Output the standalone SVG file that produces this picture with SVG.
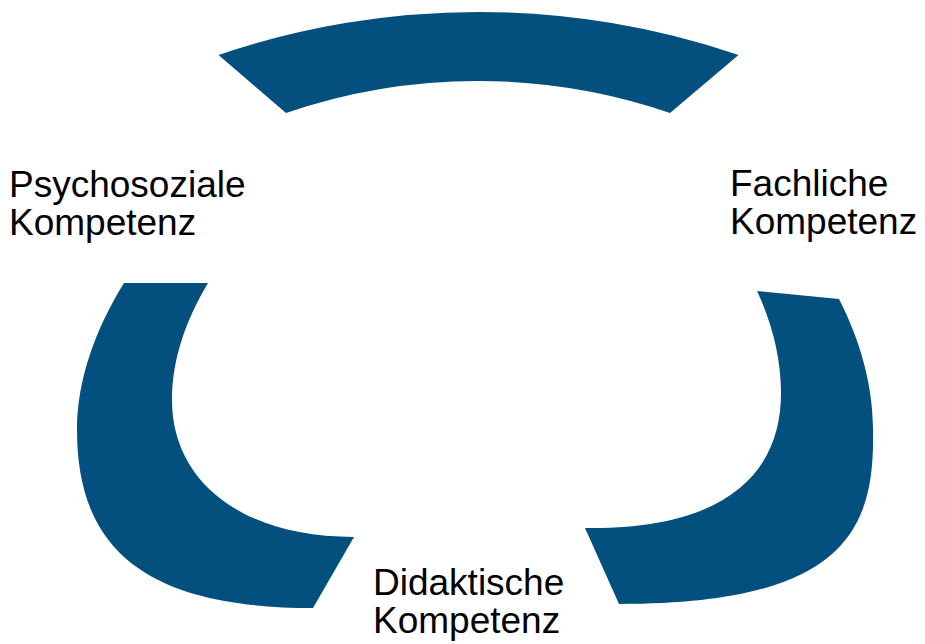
<svg xmlns="http://www.w3.org/2000/svg" width="925" height="644" viewBox="0 0 925 644">
<style>
.seg{fill:#034F7E;stroke:none}
.lbl{font-family:"Liberation Sans",Arial,sans-serif;font-size:37px;fill:#000}
</style>
<rect width="925" height="644" fill="#fff"/>
<g id="connectors">
<path id="arc-top" class="seg" d="M218.5,55 A807.6,807.6 0 0 1 738.5,55 L670,113 A592,592 0 0 0 286,113 Z"/>
<path id="arc-right" class="seg" d="M757,291 L839,299 C860,340 873,385 873,430 C875,530 845,604 619,604 L585,528 C730,530 781,470 781,393 C781,360 773,325 757,291 Z"/>
<path id="arc-left" class="seg" d="M124,283 L208,283 C185,322 172,360 172,400 C172,480 240,537 354,537 L313,608 C140,608 77,545 77,430 C77,380 95,330 124,283 Z"/>
</g>
<g id="node-psychosozial">
<text class="lbl" x="9" y="197">Psychosoziale</text>
<text class="lbl" x="9" y="235">Kompetenz</text>
</g>
<g id="node-fachlich">
<text class="lbl" x="730" y="196">Fachliche</text>
<text class="lbl" x="730" y="234">Kompetenz</text>
</g>
<g id="node-didaktisch">
<text class="lbl" x="373" y="595">Didaktische</text>
<text class="lbl" x="373" y="633">Kompetenz</text>
</g>
</svg>
